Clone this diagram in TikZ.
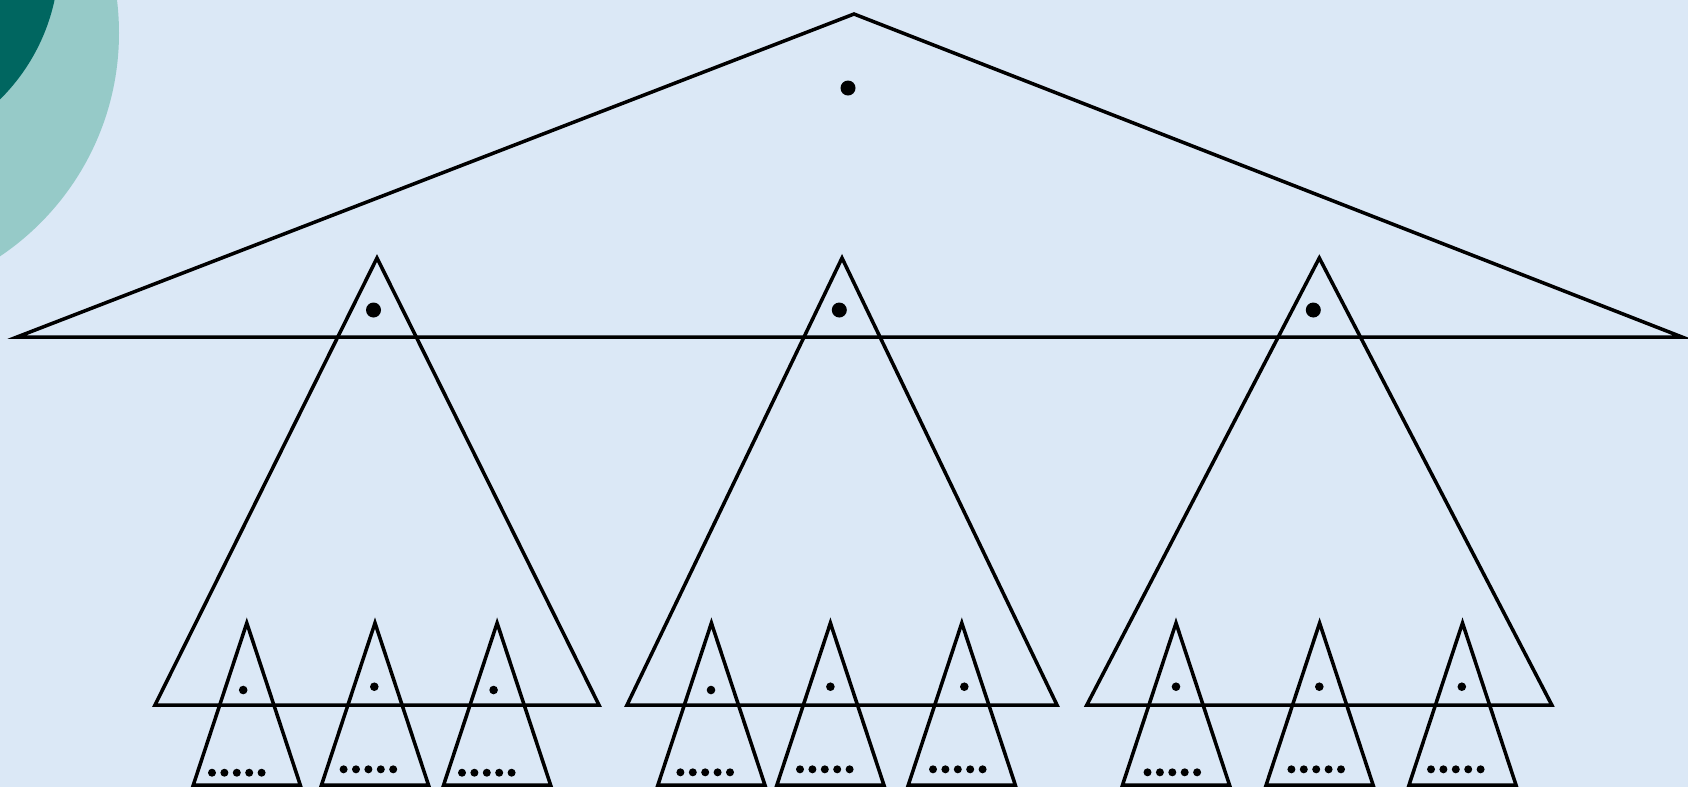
\documentclass[tikz,border=0pt]{standalone}
\usetikzlibrary{math}
\definecolor{qsky}{RGB}{219,232,246}
\definecolor{qteal}{RGB}{0,102,96}
\definecolor{qmint}{RGB}{150,202,200}

\begin{document}
\begin{tikzpicture}[x=0.01cm,y=-0.01cm,line width=1pt]

\tikzmath{
\W = 1688;
\H = 787;
%big triangle
\ax = 854;
\ay = 14;
\by = 337;
%middle triangles: apex and base height
\my = 258;
\mb = 705;
%small triangles
\sy = 623;
\sh = 162;
\sw = 53.5;
%dots
\rb = 7.5;
\rs = 4.3;
\rr = 4.0;
\dd = 12.4;
}

%background
\fill[qsky] (0,0) rectangle (\W,\H);
\useasboundingbox (0,0) rectangle (\W,\H);
\begin{scope}
\clip (0,0) rectangle (\W,\H);
\fill[qmint] (-150,33) circle(269);
\fill[qteal] (-140,-42) circle(199);
\end{scope}

%big triangle
\coordinate (top) at (\ax,\ay);
\coordinate (BL) at (17,\by);
\coordinate (BR) at (1682,\by);
\draw (BL) -- (top) -- (BR) -- cycle;
\fill (848,88) circle(\rb);

%middle triangles
\foreach \i/\mx/\mw/\dx in {1/377/222/373.5, 2/842/215/839.3, 3/1319.3/232.5/1313.3} {
  \coordinate (m\i) at (\mx,\my);
  \draw (m\i) -- (\mx+\mw,\mb) -- (\mx-\mw,\mb) -- cycle;
  \fill (\dx,310) circle(\rb);
}

%small triangles
\foreach \i/\sx/\dx/\dy/\px/\py in {1/246.8/243.2/690/212/772.7,
  2/375/374.3/686.7/343.6/769.3, 3/497.1/493.6/690/462/772.7,
  4/711.4/711/690/680.4/772.3, 5/830.4/830.4/686.7/800/769.3,
  6/961.8/964.3/686.7/933/769.3, 7/1176/1176/686.7/1147.5/772.3,
  8/1319.6/1319.3/686.7/1291.4/769.3, 9/1462.5/1461.8/686.7/1431/769.3} {
  \coordinate (s\i) at (\sx,\sy);
  \draw (s\i) -- ++(\sw,\sh) -- ++(-2*\sw,0) -- cycle;
  \fill (\dx,\dy) circle(\rs);
  \foreach \k in {0,...,4}
    \fill (\px+\dd*\k,\py) circle(\rr);
}

\end{tikzpicture}
\end{document}
